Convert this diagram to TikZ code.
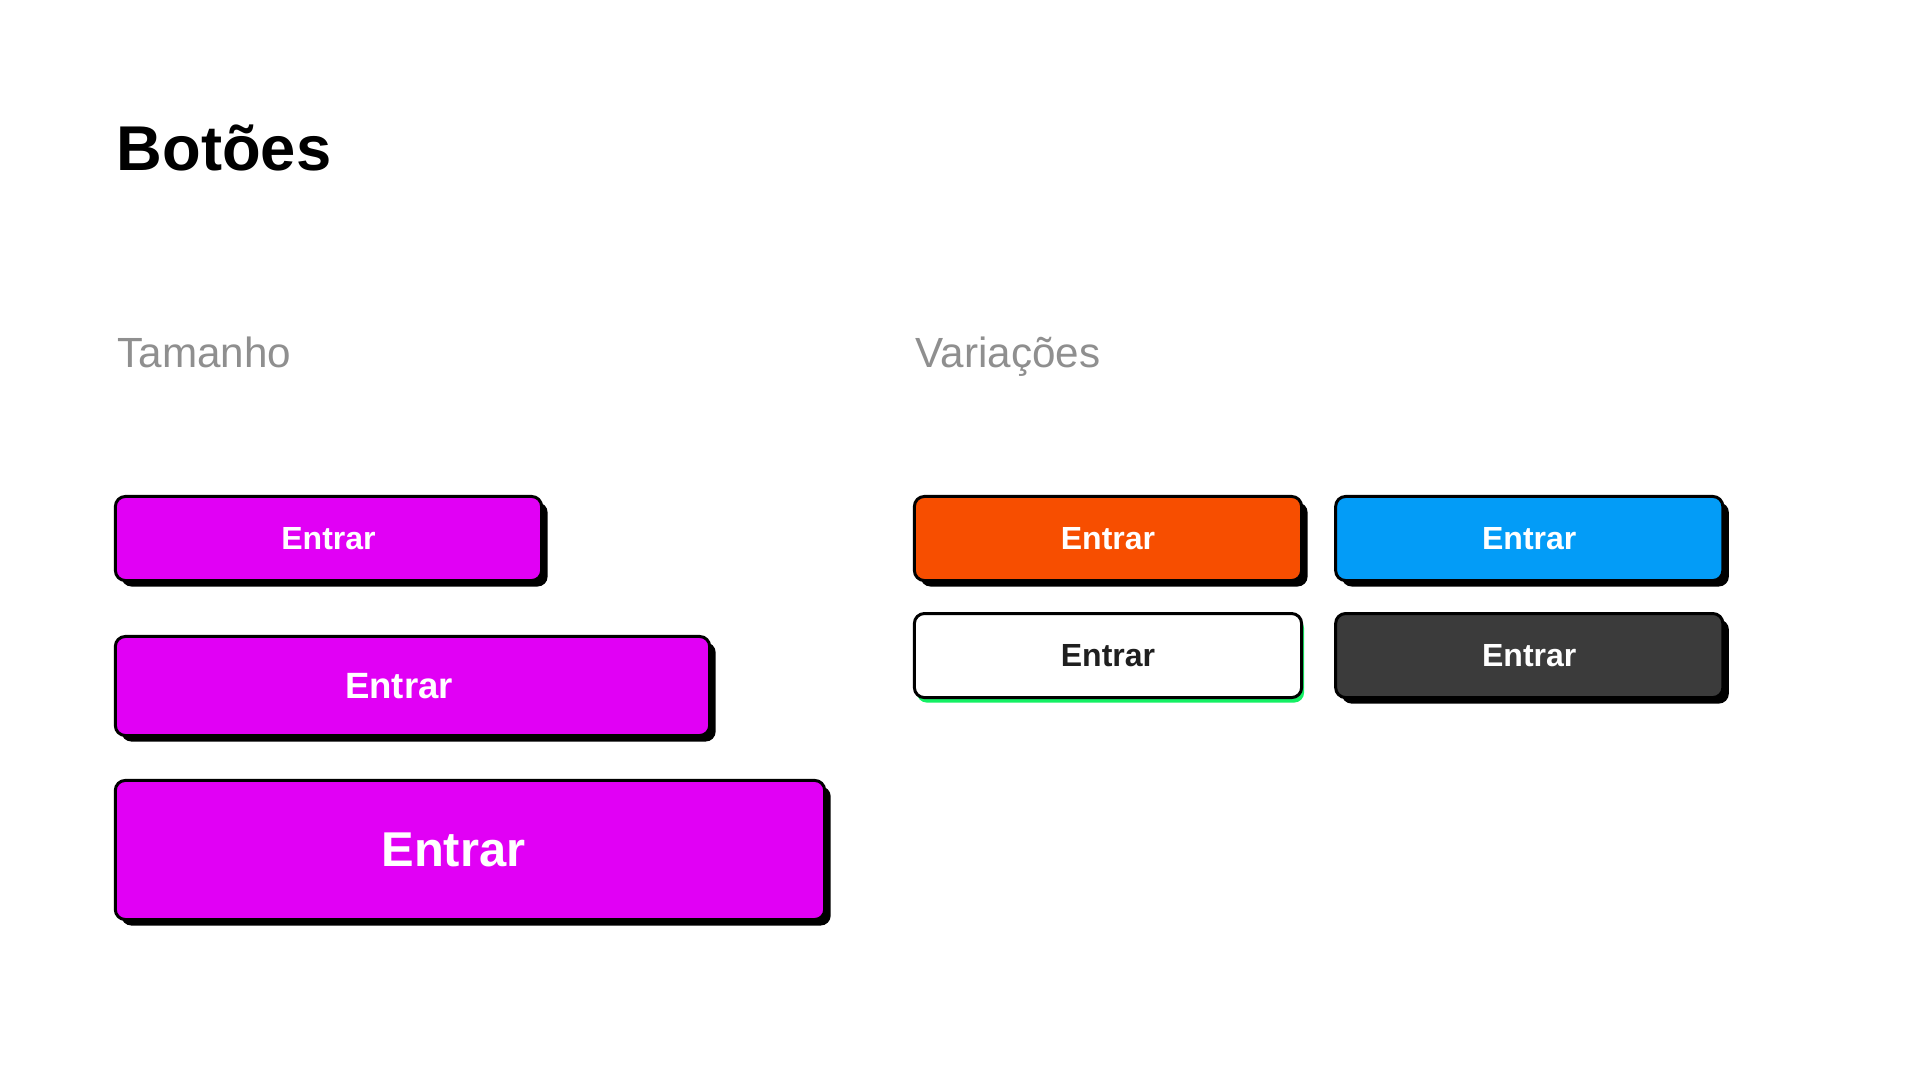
\documentclass[tikz,border=0pt]{standalone}
\usepackage{fontspec}
\setmainfont{Liberation Sans}
\usepackage{xcolor}
\usepackage{tikz}
\usetikzlibrary{positioning}
\usetikzlibrary{shadows}
\definecolor{roxo}{HTML}{E100F5}
\definecolor{laranja}{HTML}{F74E00}
\definecolor{azul}{HTML}{039CF7}
\definecolor{escuro}{HTML}{3B3B3B}
\definecolor{verde}{HTML}{14F064}
\definecolor{cinza}{HTML}{8F8F8F}
\tikzset{
  botao/.style = {rectangle, rounded corners=0.1cm, draw=black, line width=0.85pt,
    inner sep=0pt, outer sep=0pt, text=white, font=\bfseries},% botao base
  sombra_p/.style = {drop shadow={shadow xshift=0.06cm, shadow yshift=-0.06cm,
    fill=black, opacity=1}},% sombra preta
  sombra_v/.style = {drop shadow={shadow xshift=0.025cm, shadow yshift=-0.05cm,
    fill=verde, opacity=1}},% sombra verde
  btn_p/.style = {botao, sombra_p, fill=roxo, minimum width=4.26cm,
    minimum height=0.84cm, font=\bfseries\fontsize{9.1}{11}\selectfont},% pequeno
  btn_m/.style = {botao, sombra_p, fill=roxo, minimum width=5.94cm,
    minimum height=0.99cm},% medio
  btn_g/.style = {botao, sombra_p, fill=roxo, minimum width=7.09cm,
    minimum height=1.39cm},% grande
  btn_v/.style = {botao, minimum width=3.87cm, minimum height=0.84cm,
    font=\bfseries\fontsize{9.1}{11}\selectfont},% variacao
  rotulo/.style = {inner sep=0pt, text=white, font=\bfseries},
  titulo/.style = {anchor=base west, inner sep=0pt,
    font=\bfseries\fontsize{18}{22}\selectfont},
  secao/.style = {anchor=base west, inner sep=0pt, text=cinza,
    font=\fontsize{12}{14}\selectfont}
}

\begin{document}
\begin{tikzpicture}[x=0.01cm, y=-0.01cm]
\fill[white] (0,0) rectangle (1920,1080);
\useasboundingbox (0,0) rectangle (1920,1080);

\node [titulo] (tit) at (116,171) {Botões};
\node [secao] (tam) at (117,368) {Tamanho};
\node [secao] (var) at (915,368) {Variações};

% tamanhos
\node [btn_p] (pequeno) at (328.5,538.5) {Entrar};
\node [btn_m] (medio) at (412.5,686) {};
\node [btn_g] (grande) at (470,850) {};
\node at (medio) [rotulo, xshift=-0.135cm] {\fontsize{10.4}{12}\selectfont Entrar};
\node at (grande) [rotulo, xshift=-0.165cm] {\fontsize{13.9}{16}\selectfont Entrar};

% variacoes
\node [btn_v, sombra_p, fill=laranja] (laranja) at (1108,538.5) {Entrar};
\node [btn_v, sombra_p, fill=azul, right=0.34cm of laranja] (azul) {Entrar};
\node [btn_v, sombra_v, fill=white, text=black!88, below=0.33cm of laranja] (branco) {Entrar};
\node [btn_v, sombra_p, fill=escuro, right=0.34cm of branco] (escuro) {Entrar};
\end{tikzpicture}
\end{document}
